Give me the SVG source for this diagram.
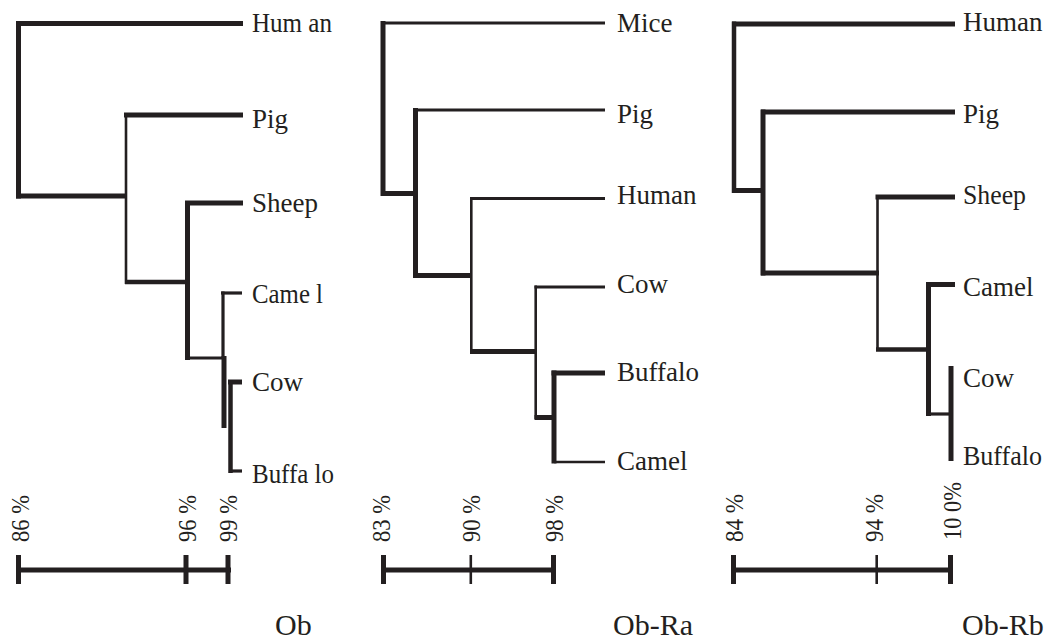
<svg xmlns="http://www.w3.org/2000/svg" width="1048" height="641" viewBox="0 0 1048 641">
  <style>
    .br { fill: none; stroke: #231f20; stroke-linecap: butt; }
    .w5 { stroke-width: 5; }
    .w4 { stroke-width: 4.5; }
    .w3 { stroke-width: 3.2; }
    .w2 { stroke-width: 2.6; }
    text { font-family: 'Liberation Serif', 'Tinos', 'Noto Serif', 'DejaVu Serif', serif; fill: #231f20; }
    .lbl { font-size: 27px; }
    .pct { font-size: 25px; }
    .ttl { font-size: 30px; }
  </style>
  <rect width="1048" height="641" fill="#ffffff"/>

  <!-- Ob tree -->
  <g id="tree-ob">
    <g id="ob-edges">
      <path class="br w5" d="M16,23.5 H243"/>
      <path class="br w5" d="M18.5,21 V198.5"/>
      <path class="br w5" d="M16,196 H127"/>
      <path class="br w5" d="M124,115 H243"/>
      <path class="br w2" d="M126,113 V284"/>
      <path class="br w4" d="M125,282 H187"/>
      <path class="br w5" d="M185,203 H243"/>
      <path class="br w5" d="M187.5,201 V360"/>
      <path class="br w3" d="M185,358 H224"/>
      <path class="br w3" d="M221,293 H242"/>
      <path class="br w3" d="M223,291.5 V358"/>
      <path class="br w5" d="M224,356 V428"/>
      <path class="br w5" d="M228,382 H242"/>
      <path class="br w4" d="M230.5,380 V473"/>
      <path class="br w3" d="M229,471 H242"/>
    </g>
    <g id="ob-labels">
      <text class="lbl" x="252" y="31.5" textLength="80" lengthAdjust="spacingAndGlyphs">Hum an</text>
      <text class="lbl" x="252" y="128">Pig</text>
      <text class="lbl" x="252" y="211.5">Sheep</text>
      <text class="lbl" x="252" y="302.5" textLength="71" lengthAdjust="spacingAndGlyphs">Came l</text>
      <text class="lbl" x="252" y="391">Cow</text>
      <text class="lbl" x="252" y="483" textLength="82" lengthAdjust="spacingAndGlyphs">Buffa lo</text>
    </g>
  </g>

  <!-- Ob-Ra tree -->
  <g id="tree-obra">
    <g id="obra-edges">
      <path class="br w3" d="M381,23 H605"/>
      <path class="br w5" d="M383,21 V196"/>
      <path class="br w5" d="M381,193.5 H417"/>
      <path class="br w3" d="M413,110 H605"/>
      <path class="br w5" d="M415.5,108 V278"/>
      <path class="br w5" d="M413,275.5 H472"/>
      <path class="br w3" d="M470,198.5 H605"/>
      <path class="br w2" d="M471.3,197 V353"/>
      <path class="br w5" d="M470,351.5 H537"/>
      <path class="br w3" d="M534.5,287 H605"/>
      <path class="br w2" d="M535.7,285.5 V419"/>
      <path class="br w5" d="M534.5,417.5 H556"/>
      <path class="br w5" d="M551.5,373 H605"/>
      <path class="br w5" d="M554,370.5 V463.5"/>
      <path class="br w2" d="M554,462 H605"/>
    </g>
    <g id="obra-labels">
      <text class="lbl" x="617" y="32">Mice</text>
      <text class="lbl" x="617" y="123">Pig</text>
      <text class="lbl" x="617" y="204">Human</text>
      <text class="lbl" x="617" y="292.5">Cow</text>
      <text class="lbl" x="617" y="380.5">Buffalo</text>
      <text class="lbl" x="617" y="469.5">Camel</text>
    </g>
  </g>

  <!-- Ob-Rb tree -->
  <g id="tree-obrb">
    <g id="obrb-edges">
      <path class="br w5" d="M732,24 H955"/>
      <path class="br w4" d="M734,21.5 V193"/>
      <path class="br w5" d="M732,190.5 H765"/>
      <path class="br w5" d="M761,112 H955"/>
      <path class="br w5" d="M763,109.5 V275.5"/>
      <path class="br w5" d="M761,273 H879"/>
      <path class="br w5" d="M875.5,197 H955"/>
      <path class="br w2" d="M877.5,195 V351"/>
      <path class="br w4" d="M876,349.5 H930"/>
      <path class="br w5" d="M926,284.5 H955"/>
      <path class="br w5" d="M928.5,282 V416"/>
      <path class="br w3" d="M926,414 H951"/>
      <path class="br w5" d="M951,366 V461"/>
    </g>
    <g id="obrb-labels">
      <text class="lbl" x="963" y="30.5">Human</text>
      <text class="lbl" x="963" y="122.5">Pig</text>
      <text class="lbl" x="963" y="204" textLength="63" lengthAdjust="spacingAndGlyphs">Sheep</text>
      <text class="lbl" x="963" y="296">Camel</text>
      <text class="lbl" x="963" y="387">Cow</text>
      <text class="lbl" x="963" y="465" textLength="79" lengthAdjust="spacingAndGlyphs">Buffalo</text>
    </g>
  </g>

  <!-- similarity scale bars -->
  <g id="scale-ob">
    <path class="br w5" d="M16,570 H231"/>
    <path class="br w5" d="M18.5,555 V584 M186,555 V584 M228,555 V584"/>
    <text class="pct" transform="translate(29,542) rotate(-90)" textLength="47" lengthAdjust="spacingAndGlyphs">86 %</text>
    <text class="pct" transform="translate(196,542) rotate(-90)" textLength="47" lengthAdjust="spacingAndGlyphs">96 %</text>
    <text class="pct" transform="translate(237,542) rotate(-90)" textLength="47" lengthAdjust="spacingAndGlyphs">99 %</text>
    <text class="ttl" x="275" y="635">Ob</text>
  </g>
  <g id="scale-obra">
    <path class="br w5" d="M381,570 H556"/>
    <path class="br w5" d="M383.5,555 V584 M553.5,555 V584"/>
    <path class="br w2" d="M470.8,555 V584"/>
    <text class="pct" transform="translate(390,542) rotate(-90)" textLength="47" lengthAdjust="spacingAndGlyphs">83 %</text>
    <text class="pct" transform="translate(480,542) rotate(-90)" textLength="47" lengthAdjust="spacingAndGlyphs">90 %</text>
    <text class="pct" transform="translate(563,542) rotate(-90)" textLength="47" lengthAdjust="spacingAndGlyphs">98 %</text>
    <text class="ttl" x="613" y="635">Ob-Ra</text>
  </g>
  <g id="scale-obrb">
    <path class="br w5" d="M731,570 H953"/>
    <path class="br w5" d="M733.5,555 V584 M950.5,555 V584"/>
    <path class="br w2" d="M876.7,555 V584"/>
    <text class="pct" transform="translate(743,542) rotate(-90)" textLength="48" lengthAdjust="spacingAndGlyphs">84 %</text>
    <text class="pct" transform="translate(883,542) rotate(-90)" textLength="48" lengthAdjust="spacingAndGlyphs">94 %</text>
    <text class="pct" transform="translate(961,540) rotate(-90)" textLength="58" lengthAdjust="spacingAndGlyphs">10 0%</text>
    <text class="ttl" x="962" y="635">Ob-Rb</text>
  </g>
</svg>
